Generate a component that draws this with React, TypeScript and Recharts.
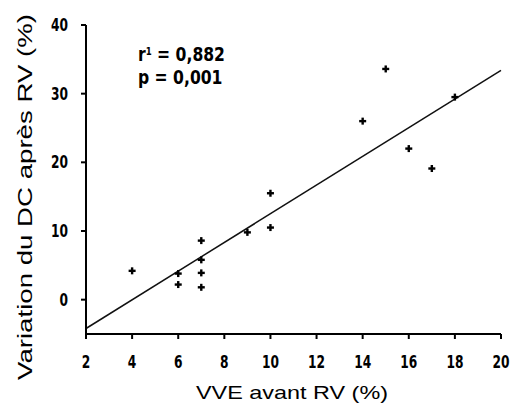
import { ScatterChart, Scatter, XAxis, YAxis, ReferenceLine, Label } from 'recharts';

const vveBefore = [4, 6, 6, 7, 7, 7, 7, 9, 10, 10, 14, 15, 16, 17, 18];
const dcChange = [4.2, 3.8, 2.2, 8.6, 5.8, 3.9, 1.8, 9.8, 10.5, 15.5, 26, 33.6, 22, 19.1, 29.5];
const xTicks = [2, 4, 6, 8, 10, 12, 14, 16, 18, 20];
const yTicks = [0, 10, 20, 30, 40];
const fitLine = [
  { x: 2, y: -4.2 },
  { x: 20, y: 33.4 },
];

const points = vveBefore.map((x, i) => ({ x, y: dcChange[i] }));

const boldFont = '"DejaVu Sans", sans-serif';

const Cross = (props: { cx?: number; cy?: number }) => {
  const { cx = 0, cy = 0 } = props;
  return (
    <g fill="#000">
      <rect x={cx - 3.5} y={cy - 1.2} width={7} height={2.4} />
      <rect x={cx - 1.2} y={cy - 3.5} width={2.4} height={7} />
    </g>
  );
};

// narrow bold tick text, squeezed horizontally
const NarrowTick = (props: any) => {
  const { x, y, payload, textAnchor, dy } = props;
  return (
    <g transform={`translate(${x},${y}) scale(0.72,1)`}>
      <text
        x={0}
        y={0}
        dy={dy}
        textAnchor={textAnchor}
        fontFamily={boldFont}
        fontWeight={700}
        fontSize={17}
        fill="#000"
      >
        {payload.value}
      </text>
    </g>
  );
};

export default function App() {
  return (
    <div style={{ position: 'absolute', left: 0, top: 0, width: 512, height: 404, background: '#fff' }}>
      <ScatterChart width={512} height={404} margin={{ top: 25, right: 11, bottom: 40, left: 46 }}>
        <XAxis
          type="number"
          dataKey="x"
          domain={[2, 20]}
          ticks={xTicks}
          interval={0}
          height={30}
          tickSize={5}
          tickMargin={11}
          axisLine={{ stroke: '#000', strokeWidth: 2 }}
          tickLine={{ stroke: '#000', strokeWidth: 2 }}
          tick={(p: any) => <NarrowTick {...p} dy={18} />}
        >
          <Label
            content={() => (
              <text
                x={292}
                y={399}
                textAnchor="middle"
                fontFamily="Arial, 'Liberation Sans', sans-serif"
                fontSize={19}
                fill="#000"
                textLength={192}
                lengthAdjust="spacingAndGlyphs"
              >
                VVE avant RV (%)
              </text>
            )}
          />
        </XAxis>
        <YAxis
          type="number"
          dataKey="y"
          domain={[-5, 40]}
          ticks={yTicks}
          interval={0}
          width={40}
          tickSize={5}
          tickMargin={13}
          axisLine={{ stroke: '#000', strokeWidth: 2 }}
          tickLine={{ stroke: '#000', strokeWidth: 2 }}
          tick={(p: any) => <NarrowTick {...p} dy={6} />}
        >
          <Label
            content={() => (
              <text
                x={32}
                y={197}
                transform="rotate(-90 32 197)"
                textAnchor="middle"
                fontFamily="Arial, 'Liberation Sans', sans-serif"
                fontSize={21}
                fill="#000"
                textLength={366}
                lengthAdjust="spacingAndGlyphs"
              >
                Variation du DC après RV (%)
              </text>
            )}
          />
        </YAxis>
        <ReferenceLine segment={fitLine} stroke="#111" strokeWidth={1.5} />
        <Scatter data={points} shape={<Cross />} isAnimationActive={false} />
      </ScatterChart>
      <div
        style={{
          position: 'absolute',
          left: 138,
          top: 43,
          fontFamily: boldFont,
          fontWeight: 700,
          fontSize: 20,
          lineHeight: '23px',
          color: '#000',
          transform: 'scaleX(0.78)',
          transformOrigin: 'left top',
          whiteSpace: 'nowrap',
        }}
      >
        <div>
          r<sup style={{ fontSize: 11, verticalAlign: 'top', position: 'relative', top: -3 }}>1</sup> = 0,882
        </div>
        <div>p = 0,001</div>
      </div>
    </div>
  );
}
